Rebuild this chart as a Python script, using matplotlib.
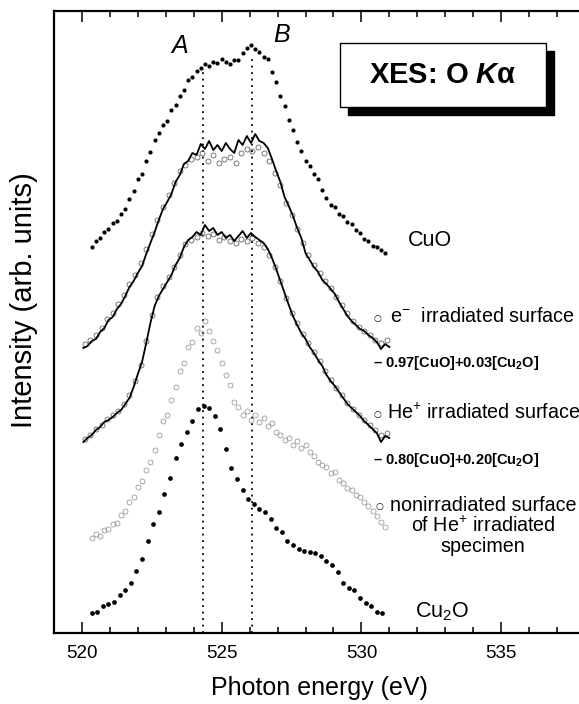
import numpy as np
import matplotlib
matplotlib.use("Agg")
import matplotlib.pyplot as plt
from matplotlib.patches import Rectangle
from matplotlib.ticker import MultipleLocator

plt.rcParams["font.family"] = ["Liberation Sans", "DejaVu Sans"]
plt.rcParams["mathtext.fontset"] = "custom"
plt.rcParams["mathtext.rm"] = "Liberation Sans"
plt.rcParams["mathtext.it"] = "Liberation Sans:italic:bold"
plt.rcParams["mathtext.bf"] = "Liberation Sans:bold"

# ---------------------------------------------
# DATA (photon energy in eV, intensity in arb. units, curves already offset)
# ---------------------------------------------
cuo_energy = np.linspace(520.35, 530.85, 71)
cuo_int = [386, 392, 395, 401, 404, 410, 412, 419, 424, 434,
           442, 454, 459, 472, 481, 493, 500, 508, 512, 523,
           528, 537, 543, 553, 556, 562, 565, 569, 567, 571,
           570, 574, 571, 569, 573, 573, 580, 585, 588, 584,
           581, 576, 574, 561, 551, 537, 527, 513, 503, 491,
           482, 472, 467, 459, 454, 443, 435, 428, 426, 419,
           417, 411, 409, 403, 400, 394, 392, 387, 386, 383,
           380]

# e- irradiated surface: fit 0.97[CuO]+0.03[Cu2O] (line) and measured (circles)
e_fit_energy = np.linspace(520.05, 531.0, 74)
e_fit_int = [285, 287, 292, 294, 301, 305, 313, 316, 324, 329,
             337, 346, 352, 360, 367, 379, 390, 401, 413, 424,
             431, 439, 451, 458, 469, 472, 480, 478, 489, 484,
             492, 483, 488, 482, 490, 484, 480, 493, 488, 497,
             490, 499, 492, 490, 485, 474, 462, 451, 436, 427,
             417, 405, 395, 380, 373, 366, 361, 353, 349, 344,
             339, 331, 324, 317, 312, 308, 304, 302, 298, 295,
             291, 284, 289, 286]
e_obs_energy = np.linspace(520.1, 530.9, 55)
e_obs_int = [289, 293, 298, 305, 314, 320, 329, 338, 349, 358,
             370, 384, 399, 413, 426, 438, 450, 462, 468, 474,
             476, 480, 472, 478, 470, 474, 476, 470, 480, 484,
             482, 486, 480, 472, 460, 448, 430, 418, 404, 390,
             378, 368, 360, 352, 345, 336, 328, 320, 312, 306,
             302, 298, 293, 290, 293]

# He+ irradiated surface: fit 0.80[CuO]+0.20[Cu2O] (line) and measured (circles)
he_fit_energy = np.linspace(520.05, 531.0, 74)
he_fit_int = [191, 195, 198, 203, 206, 211, 213, 216, 220, 223,
              229, 235, 246, 259, 271, 290, 310, 327, 337, 344,
              351, 358, 368, 375, 386, 393, 396, 401, 398, 408,
              402, 405, 398, 401, 395, 398, 392, 397, 402, 395,
              400, 396, 393, 390, 384, 375, 364, 352, 340, 328,
              317, 308, 300, 294, 286, 280, 273, 267, 258, 252,
              247, 241, 235, 229, 225, 221, 217, 212, 208, 204,
              200, 191, 197, 195]
he_obs_energy = np.linspace(520.1, 530.9, 55)
he_obs_int = [194, 198, 204, 208, 214, 218, 222, 229, 238, 252,
              268, 292, 318, 336, 347, 356, 366, 378, 389, 393,
              396, 400, 397, 399, 393, 396, 392, 390, 394, 392,
              395, 390, 386, 378, 366, 352, 335, 320, 310, 299,
              290, 281, 272, 262, 253, 245, 238, 230, 224, 218,
              213, 208, 203, 198, 200]

# nonirradiated surface of He+ irradiated specimen
non_energy = np.linspace(520.35, 530.85, 71)
non_int = [95, 99, 97, 103, 104, 109, 110, 118, 122, 131,
           136, 146, 152, 163, 171, 183, 198, 212, 218, 233,
           246, 262, 270, 286, 291, 305, 300, 312, 302, 292,
           283, 270, 258, 248, 231, 226, 218, 222, 213, 218,
           211, 215, 207, 210, 201, 198, 193, 195, 188, 192,
           185, 188, 181, 177, 171, 168, 166, 160, 161, 153,
           150, 145, 143, 138, 136, 131, 127, 122, 117, 111,
           106]

cu2o_energy = np.linspace(520.35, 530.75, 53)
cu2o_int = [20, 21, 27, 29, 31, 38, 43, 50, 62, 74,
            92, 109, 121, 139, 155, 175, 189, 201, 212, 224,
            227, 225, 217, 204, 184, 165, 154, 143, 134, 129,
            124, 121, 114, 105, 101, 92, 88, 84, 82, 81,
            80, 77, 72, 68, 61, 50, 45, 43, 35, 30,
            27, 21, 20]

# features A and B
peak_names = ["A", "B"]
peak_energy = [524.32, 526.10]
peak_top = [561, 578]
peak_label_xy = [(523.51, 587), (527.15, 598)]

# ---------------------------------------------
# PLOT
# ---------------------------------------------
fig = plt.figure(figsize=(5.79, 7.04), dpi=100)
ax = fig.add_axes([54 / 579, 71 / 704, 531 / 579, 622 / 704])

for e, top in zip(peak_energy, peak_top):
    ax.plot([e, e], [0, top], color="black", lw=1.3, linestyle=(0, (1, 2.6)))
for name, (x, y) in zip(peak_names, peak_label_xy):
    ax.text(x, y, name, fontsize=18, fontstyle="italic", ha="center", va="center")

ax.plot(cuo_energy, cuo_int, "o", color="black", ms=3.0, mew=0)

ax.plot(e_obs_energy, e_obs_int, "o", mfc="none", mec="#666666", ms=3.6, mew=0.6)
ax.plot(e_fit_energy, e_fit_int, "-", color="black", lw=1.3)

ax.plot(he_obs_energy, he_obs_int, "o", mfc="none", mec="#666666", ms=3.6, mew=0.6)
ax.plot(he_fit_energy, he_fit_int, "-", color="black", lw=1.3)

ax.plot(non_energy, non_int, "o", mfc="none", mec="#888888", ms=3.6, mew=0.5)

ax.plot(cu2o_energy, cu2o_int, "o", color="black", ms=3.4, mew=0)

# curve labels
ax.text(531.67, 393, "CuO", fontsize=15.5, ha="left", va="center")
ax.text(530.56, 315, "○", fontsize=6.5, family="DejaVu Sans", ha="center", va="center")
ax.text(531.02, 317, r"e$^{-}$  irradiated surface", fontsize=14.2, ha="left", va="center")
ax.text(530.41, 270, r"– 0.97[CuO]+0.03[Cu$_{\mathbf{2}}$O]", fontsize=10.5,
        fontweight="bold", ha="left", va="center")
ax.text(530.56, 218, "○", fontsize=6.5, family="DejaVu Sans", ha="center", va="center")
ax.text(530.91, 220, r"He$^{+}$ irradiated surface", fontsize=14.2, ha="left", va="center")
ax.text(530.41, 173, r"– 0.80[CuO]+0.20[Cu$_{\mathbf{2}}$O]", fontsize=10.5,
        fontweight="bold", ha="left", va="center")
ax.text(530.63, 127, "○", fontsize=6.5, family="DejaVu Sans", ha="center", va="center")
ax.text(534.35, 107, "nonirradiated surface\n" + r"of He$^{+}$ irradiated" + "\nspecimen",
        fontsize=14.2, ha="center", va="center", multialignment="center", linespacing=1.05)
ax.text(531.92, 21, r"Cu$_2$O", fontsize=15.5, ha="left", va="center")

# title box with shadow
ax.add_patch(Rectangle((529.52, 518), 7.37, 64, facecolor="black", edgecolor="black", zorder=4))
ax.add_patch(Rectangle((529.23, 526), 7.37, 64, facecolor="white", edgecolor="black",
                       lw=1.0, zorder=5))
ax.text(532.92, 558, r"XES: O $\mathit{K}$α", fontsize=21, fontweight="bold",
        ha="center", va="center", zorder=6)

ax.set_xlim(519, 538)
ax.set_ylim(0, 622)
ax.xaxis.set_major_locator(MultipleLocator(5))
ax.xaxis.set_minor_locator(MultipleLocator(1))
ax.tick_params(axis="x", which="both", direction="in", top=True, width=1.1)
ax.tick_params(axis="x", which="major", length=8, pad=9, labelsize=13.5)
ax.tick_params(axis="x", which="minor", length=4)
ax.set_yticks([])
for side in ["left", "bottom", "top"]:
    ax.spines[side].set_linewidth(1.6)
ax.spines["right"].set_visible(False)

ax.set_xlabel("Photon energy (eV)", fontsize=18, labelpad=10)
ax.set_ylabel("Intensity (arb. units)", fontsize=21)
ax.yaxis.set_label_coords(-0.030, 0.535)

fig.savefig("out.png", dpi=100)
